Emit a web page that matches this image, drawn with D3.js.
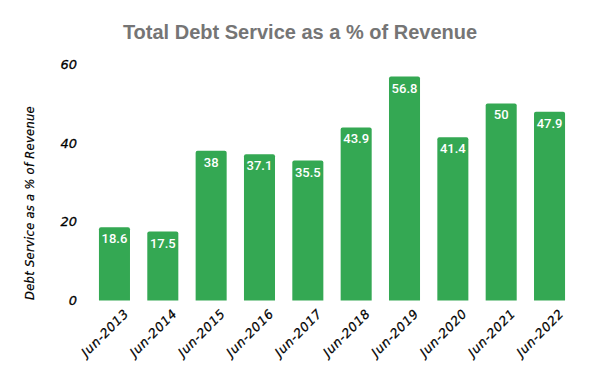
<!DOCTYPE html>
<html><head><meta charset="utf-8">
<script src="https://cdn.jsdelivr.net/npm/d3@7"></script>
<style>body{margin:0;background:#fff}</style>
</head><body>
<svg id="c" width="600" height="371"></svg>
<script>
const categories = ["Jun-2013","Jun-2014","Jun-2015","Jun-2016","Jun-2017","Jun-2018","Jun-2019","Jun-2020","Jun-2021","Jun-2022"];
const values = [18.6,17.5,38,37.1,35.5,43.9,56.8,41.4,50,47.9];
const yTicks = [0,20,40,60];
const title = "Total Debt Service as a % of Revenue";
const yTitle = "Debt Service as a % of Revenue";

const svg = d3.select("#c");
const x = d3.scaleBand().domain(categories).range([90.3, 573.7]).paddingInner(0.358).paddingOuter(0.179);
const y = d3.scaleLinear().domain([0,60]).range([300.5, 64]);

svg.append("text").attr("x",300).attr("y",39).attr("text-anchor","middle")
  .attr("font-family","Liberation Sans, Arial, sans-serif").attr("font-weight","bold")
  .attr("font-size",20).attr("fill","#757575").text(title);

const bw = x.bandwidth(), r = 2;
svg.append("g").selectAll("path").data(values).join("path")
  .attr("fill","#34A853")
  .attr("d",(d,i)=>{
    const x0 = x(categories[i]), y0 = y(d), yb = y(0);
    return `M${x0},${yb}V${y0+r}Q${x0},${y0} ${x0+r},${y0}H${x0+bw-r}Q${x0+bw},${y0} ${x0+bw},${y0+r}V${yb}Z`;
  });

svg.append("g").selectAll("text").data(values).join("text")
  .attr("x",(d,i)=>x(categories[i])+bw/2).attr("y",d=>y(d)+16)
  .attr("text-anchor","middle").attr("fill","#fff")
  .attr("font-family","Roboto, sans-serif").attr("font-weight","500").attr("font-size",13)
  .text(d=>d);

const yAxis = d3.axisLeft(y).tickValues(yTicks).tickSize(0).tickPadding(0);
const gy = svg.append("g").attr("transform","translate(77,0)").call(yAxis);
gy.select(".domain").remove();
gy.selectAll("text").attr("font-family","DejaVu Sans, sans-serif").attr("font-style","italic")
  .attr("font-size",13).attr("fill","#000").attr("dy","0.32em").attr("stroke","#000").attr("stroke-width",0.3);

const xAxis = d3.axisBottom(x).tickSize(0).tickPadding(0);
const gx = svg.append("g").attr("transform","translate(0,300.5)").call(xAxis);
gx.select(".domain").remove();
gx.selectAll("text").attr("font-family","DejaVu Sans, sans-serif").attr("font-style","italic")
  .attr("font-size",12.5).attr("letter-spacing",0.6).attr("fill","#000").attr("text-anchor","end")
  .attr("stroke","#000").attr("stroke-width",0.25)
  .attr("dy",0).attr("y",0)
  .attr("transform","translate(15,14) rotate(-45)");

svg.append("text").attr("transform","translate(34,203) rotate(-90)").attr("text-anchor","middle")
  .attr("font-family","DejaVu Sans, sans-serif").attr("font-style","italic")
  .attr("font-size",11.5).attr("letter-spacing",0.3).attr("fill","#000").attr("stroke","#000").attr("stroke-width",0.2).text(yTitle);
</script>
</body></html>
